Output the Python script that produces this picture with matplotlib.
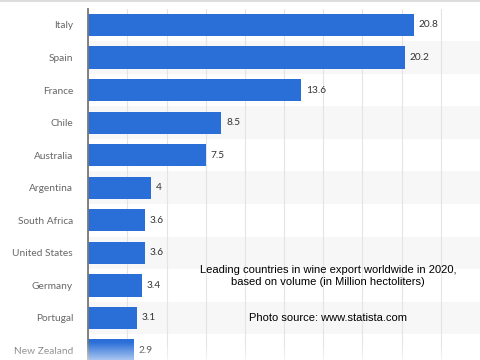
import numpy as np
import matplotlib
matplotlib.use("Agg")
import matplotlib.pyplot as plt

countries = ["Italy", "Spain", "France", "Chile", "Australia", "Argentina",
             "South Africa", "United States", "Germany", "Portugal", "New Zealand"]
volumes = [20.8, 20.2, 13.6, 8.5, 7.5, 4, 3.6, 3.6, 3.4, 3.1, 2.9]
value_labels = ["20.8", "20.2", "13.6", "8.5", "7.5", "4", "3.6", "3.6", "3.4", "3.1", "2.9"]

bar_color = "#2a6fd8"
band_color = "#f7f7f7"

fig = plt.figure(figsize=(4.8, 3.6), dpi=100)
ax = fig.add_axes([0.184, 0.0, 0.816, 0.976])

y = np.arange(len(countries))

# alternating row bands
for i in y:
    if i % 2 == 1:
        ax.axhspan(i - 0.5, i + 0.5, color=band_color, zorder=0, lw=0)

ax.barh(y, volumes, height=0.68, color=bar_color, zorder=3)

for yi, v, lab in zip(y, volumes, value_labels):
    ax.text(v + 0.3, yi, lab, va="center", ha="left", fontsize=7.3,
            family="Lato", color="#333333", zorder=4)

ax.set_xlim(0, 25)
ax.set_ylim(10.29, -0.5)
ax.set_xticks(np.arange(0, 25, 2.5))
ax.set_xticklabels([])
ax.tick_params(axis="x", length=0)
ax.grid(axis="x", color="#e4e4e4", lw=0.8, zorder=1)
ax.set_axisbelow(True)

ax.set_yticks(y)
ax.set_yticklabels(countries, fontsize=7.3, family="Lato", color="#666666")
ax.tick_params(axis="y", length=0, pad=11)

for s in ["top", "right", "bottom"]:
    ax.spines[s].set_visible(False)
ax.spines["left"].set_color("#777777")
ax.spines["left"].set_linewidth(1.3)
ax.spines["left"].set_zorder(5)

# thin border line at the very top
fig.add_artist(plt.Line2D([0, 1], [0.997, 0.997], color="#dddddd", lw=1.5))

# annotation text
fig.text(0.684, 0.233, "Leading countries in wine export worldwide in 2020,\nbased on volume (in Million hectoliters)",
         ha="center", va="center", fontsize=8, family="Liberation Sans", color="#000000",
         linespacing=1.25)
fig.text(0.684, 0.118, "Photo source: www.statista.com", ha="center", va="center",
         fontsize=8, family="Liberation Sans", color="#000000")

# white fade at the bottom
fade = fig.add_axes([0, 0, 1, 0.05])
grad = np.zeros((50, 2, 4))
grad[..., :3] = 1.0
grad[..., 3] = np.linspace(0, 0.6, 50)[:, None]
fade.imshow(grad, aspect="auto", origin="upper", extent=[0, 1, 0, 1])
fade.axis("off")

fig.savefig("out.png", dpi=100)
